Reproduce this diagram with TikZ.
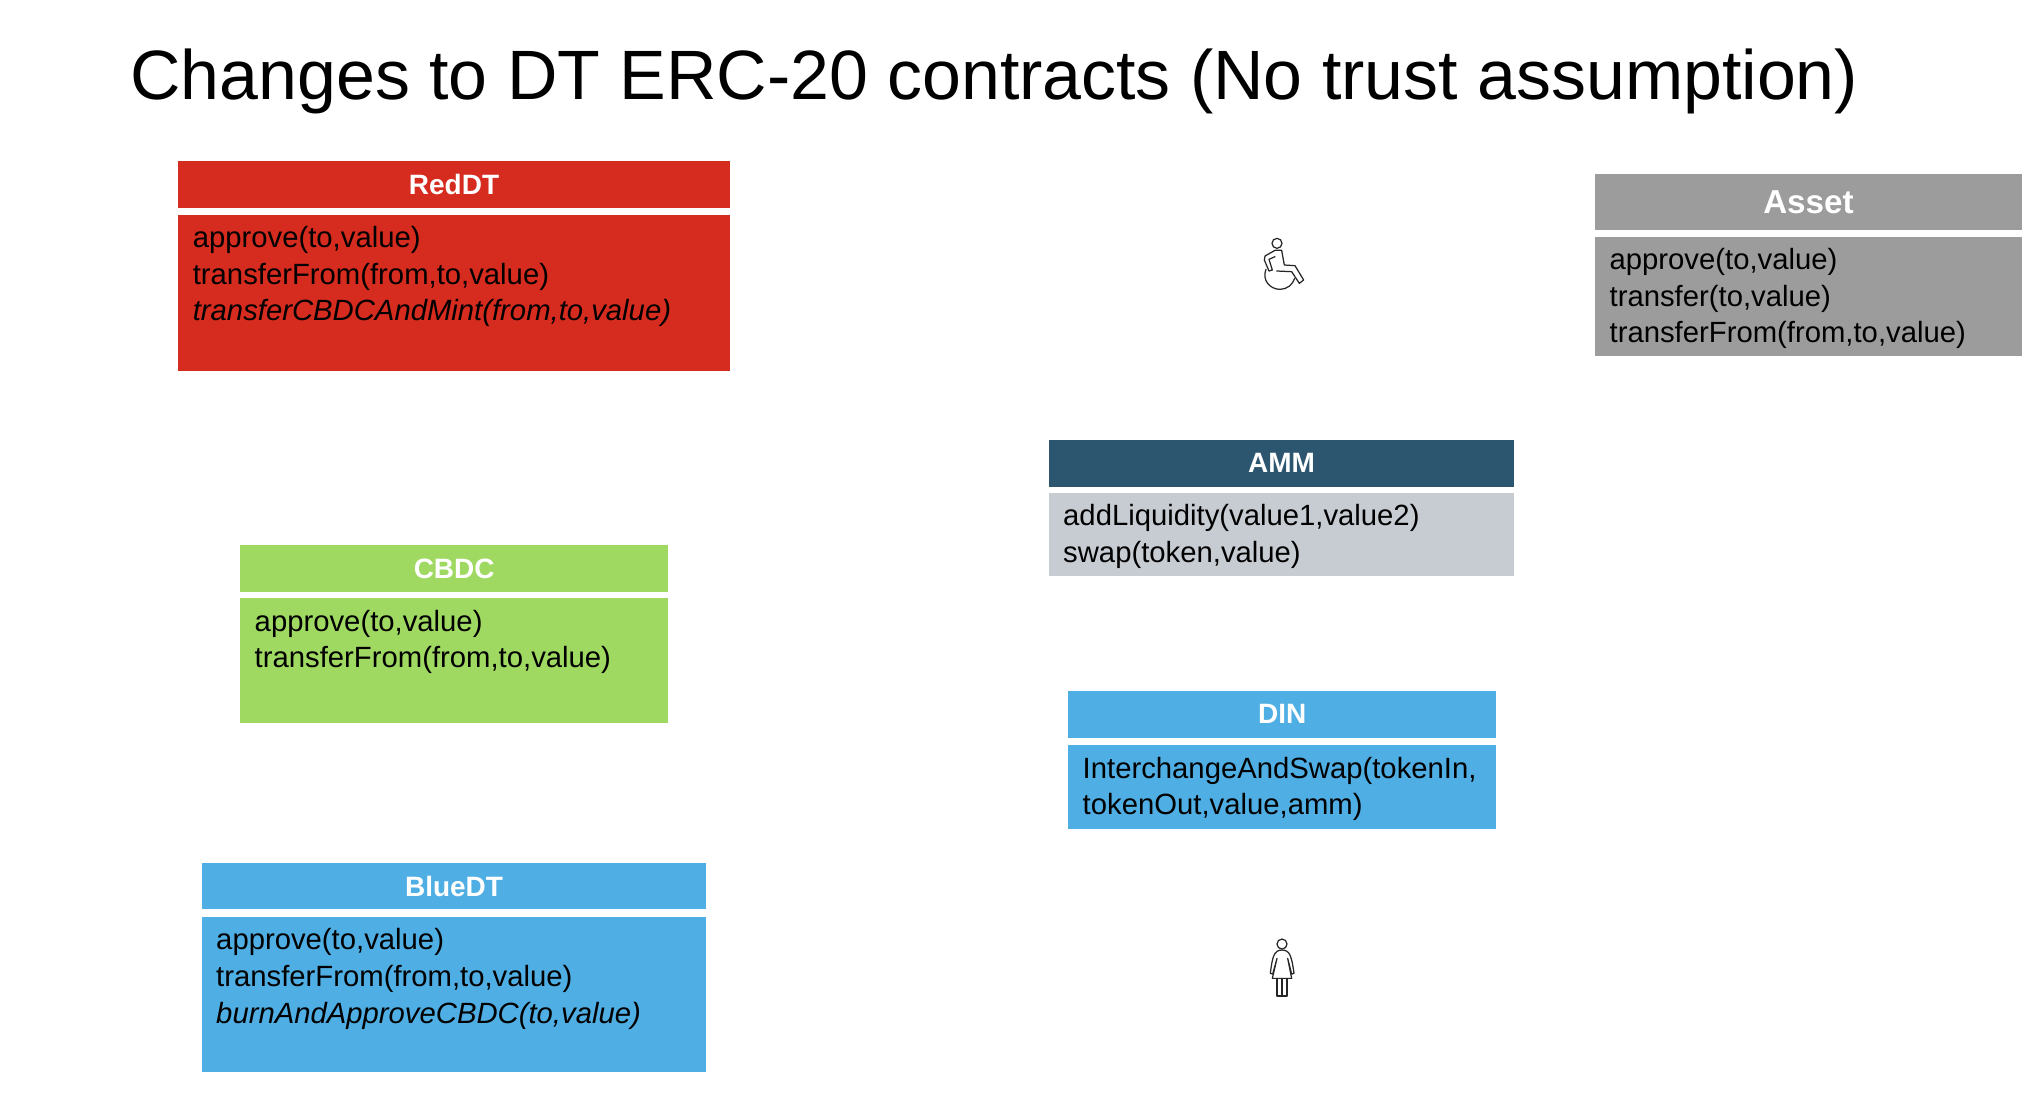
\documentclass[tikz,border=0pt]{standalone}
\usepackage{fontspec}
\setmainfont{Liberation Sans}
\definecolor{redc}{HTML}{D62B1F}
\definecolor{greenc}{HTML}{9FD962}
\definecolor{bluec}{HTML}{4FAEE3}
\definecolor{ammc}{HTML}{2C566F}
\definecolor{ammb}{HTML}{C7CCD3}
\definecolor{grayc}{HTML}{9C9C9C}
\tikzset{
  box/.style={fill=#1,draw=none,inner sep=0pt,outer sep=0pt,anchor=north west},
  headtext/.style={text=white,font=\fontsize{21.5}{25}\selectfont\bfseries,anchor=center,inner sep=0pt},
  bigheadtext/.style={text=white,font=\fontsize{25.5}{30}\selectfont\bfseries,anchor=center,inner sep=0pt},
  bodytext/.style={text=black,font=\fontsize{22.5}{28.3}\selectfont,align=left,anchor=north west,inner sep=0pt},
  titletext/.style={text=black,font=\fontsize{53.7}{64}\selectfont,anchor=west,inner sep=0pt},
  icon/.style={draw=black!85,line width=0.95pt,line join=round,line cap=round}
}
% name, x1, x2, y1, y2, y3, y4, head colour, body colour; title and body set before the call
\newcommand{\umlbox}[9]{%
  \node[box=#8,minimum width={(#3)-(#2)},minimum height={(#5)-(#4)}] (#1h) at (#2,#4) {};
  \node[box=#9,minimum width={(#3)-(#2)},minimum height={(#7)-(#6)}] (#1b) at (#2,#6) {};
  \node[\currenthead] (#1t) at (#1h.center) {\currenttitle};
  \node[bodytext] (#1x) at ([xshift=11pt,yshift=-8.5pt]#1b.north west) {\currentbody};
}
\begin{document}
\begin{tikzpicture}[x=1pt,y=-1pt]
\useasboundingbox (0,0) rectangle (1568,844);
\fill[white] (0,0) rectangle (1568,844);
\node[titletext] (title) at (100,62.5) {Changes to DT ERC-20 contracts (No trust assumption)};

\def\currenthead{headtext}
\def\currenttitle{RedDT}
\def\currentbody{approve(to,value)\\transferFrom(from,to,value)\\\textit{transferCBDCAndMint(from,to,value)}}
\umlbox{red}{137}{561}{124}{160}{165}{285}{redc}{redc}

\def\currenthead{bigheadtext}
\def\currenttitle{Asset}
\def\currentbody{approve(to,value)\\transfer(to,value)\\transferFrom(from,to,value)}
\umlbox{asset}{1226}{1554}{134}{177}{182}{274}{grayc}{grayc}

\def\currenthead{headtext}
\def\currenttitle{AMM}
\def\currentbody{addLiquidity(value1,value2)\\swap(token,value)}
\umlbox{amm}{806}{1164}{338}{374}{379}{443}{ammc}{ammb}

\def\currenttitle{CBDC}
\def\currentbody{approve(to,value)\\transferFrom(from,to,value)}
\umlbox{cbdc}{184.6}{513.6}{419}{455}{460}{556}{greenc}{greenc}

\def\currenttitle{DIN}
\def\currentbody{InterchangeAndSwap(tokenIn,\\tokenOut,value,amm)}
\umlbox{din}{821}{1150}{531}{567}{573}{637}{bluec}{bluec}

\def\currenttitle{BlueDT}
\def\currentbody{approve(to,value)\\transferFrom(from,to,value)\\\textit{burnAndApproveCBDC(to,value)}}
\umlbox{blue}{155}{543}{663}{699}{705}{824}{bluec}{bluec}

% wheelchair user
\begin{scope}[shift={(945.4,169.1)},x=0.2562pt,y=-0.2562pt]
  \draw[icon] (141,70) circle (15);
  \draw[icon] (135,91) -- (105,108) -- (103,120) -- (117,153) -- (127,150) -- (117,118) -- (135,110)
     (155,91) -- (163,135) -- (195,137) -- (221,180) -- (208,190) -- (185,155) -- (140,153)
     (135,91) -- (155,91);
  \draw[icon] (108,148) .. controls (95,180) and (120,208) .. (150,208) .. controls (170,208) and (188,195) .. (194,175);
\end{scope}
% standing person
\begin{scope}[shift={(953.1,711)},x=0.2562pt,y=-0.2562pt]
  \draw[icon] (126,57) circle (15);
  \draw[icon] (126,75) .. controls (150,75) and (155,95) .. (162,145) -- (155,147) -- (143,100) -- (155,160) -- (97,160) -- (111,100) -- (98,147) -- (91,145) .. controls (97,95) and (102,75) .. (126,75) -- cycle;
  \draw[icon] (111,160) -- (111,213) -- (141,213) -- (141,160) (126,160) -- (126,213);
\end{scope}
\end{tikzpicture}
\end{document}
